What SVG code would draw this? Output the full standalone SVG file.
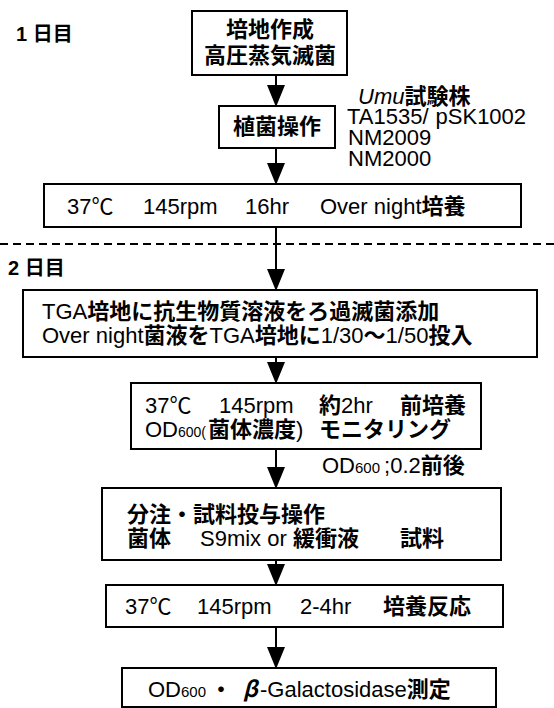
<svg xmlns="http://www.w3.org/2000/svg" width="554" height="708" viewBox="0 0 554 708">
<style>
.t{font-family:"Liberation Sans","Noto Sans CJK JP",sans-serif;font-size:22px;fill:#000}
.j{font-family:"Noto Sans CJK JP","Liberation Sans",sans-serif;font-weight:bold}
.s{font-size:15px}
.i{font-style:italic}
.d{font-family:"Liberation Sans","Noto Sans CJK JP",sans-serif;font-size:20px;font-weight:bold;fill:#000}
.box{fill:#fff;stroke:#000;stroke-width:2}
.conn{stroke:#000;stroke-width:2;fill:none;marker-end:url(#ah)}
.sep{stroke:#000;stroke-width:2;stroke-dasharray:8 5}
</style>
<defs>
<marker id="ah" markerUnits="userSpaceOnUse" markerWidth="22" markerHeight="18" viewBox="0 0 22 18" refX="18" refY="9" orient="auto"><path d="M0,0 L22,9 L0,18 Z" fill="#000"/></marker>
</defs>

<text class="d" x="16" y="41">1 <tspan class="j">日目</tspan></text>
<line class="sep" x1="0" y1="244" x2="554" y2="244"/>
<text class="d" x="8" y="275">2 <tspan class="j">日目</tspan></text>

<g id="n1">
<rect class="box" x="192" y="11" width="155" height="64"/>
<text class="t j" x="270" y="37" text-anchor="middle">培地作成</text>
<text class="t j" x="270" y="63" text-anchor="middle">高圧蒸気滅菌</text>
</g>

<g id="n2">
<rect class="box" x="219" y="106" width="116" height="42"/>
<text class="t j" x="277" y="134" text-anchor="middle">植菌操作</text>
</g>

<g id="strains">
<text class="t" x="358" y="104"><tspan class="i">Umu</tspan><tspan class="j">試験株</tspan></text>
<text class="t" x="347" y="124">TA1535/<tspan dx="7">pSK1002</tspan></text>
<text class="t" x="348" y="145">NM2009</text>
<text class="t" x="348" y="166">NM2000</text>
</g>

<g id="n3">
<rect class="box" x="44" y="184" width="477" height="43"/>
<text class="t" y="214"><tspan x="67">37℃</tspan><tspan x="143">145rpm</tspan><tspan x="245">16hr</tspan><tspan x="320">Over night</tspan><tspan class="j">培養</tspan></text>
</g>

<g id="n4">
<rect class="box" x="23" y="290" width="514" height="67"/>
<text class="t" x="42" y="319">TGA<tspan class="j">培地に抗生物質溶液をろ過滅菌添加</tspan></text>
<text class="t" x="42" y="343">Over night<tspan class="j">菌液を</tspan>TGA<tspan class="j">培地に</tspan>1/30<tspan class="j">～</tspan>1/50<tspan class="j">投入</tspan></text>
</g>

<g id="n5">
<rect class="box" x="131" y="383" width="350" height="66"/>
<text class="t" y="413"><tspan x="145">37℃</tspan><tspan x="219">145rpm</tspan><tspan x="319" class="j">約</tspan>2hr<tspan x="400" class="j">前培養</tspan></text>
<text class="t" y="437"><tspan x="145">OD</tspan><tspan style="font-size:14px">600(</tspan><tspan x="208" class="j">菌体濃度</tspan><tspan>)</tspan><tspan x="319" class="j">モニタリング</tspan></text>
</g>

<text class="t" x="322" y="473">OD<tspan class="s">600</tspan><tspan dx="4">;0.2</tspan><tspan class="j">前後</tspan></text>

<g id="n6">
<rect class="box" x="102" y="488" width="399" height="72"/>
<text class="t j" x="127" y="522">分注・試料投与操作</text>
<text class="t" y="546"><tspan x="127" class="j">菌体</tspan><tspan x="200">S9mix or </tspan><tspan class="j">緩衝液</tspan><tspan x="400" class="j">試料</tspan></text>
</g>

<g id="n7">
<rect class="box" x="106" y="585" width="397" height="42"/>
<text class="t" y="614"><tspan x="125">37℃</tspan><tspan x="197">145rpm</tspan><tspan x="300">2-4hr</tspan><tspan x="383" class="j">培養反応</tspan></text>
</g>

<g id="n8">
<rect class="box" x="122" y="668" width="374" height="39"/>
<text class="t" y="697"><tspan x="148">OD</tspan><tspan class="s">600</tspan><tspan x="210" class="j">・</tspan><tspan x="243" class="j i">β</tspan><tspan x="260">-Galactosidase</tspan><tspan class="j">測定</tspan></text>
</g>

<g id="connectors">
<path class="conn" d="M276,75 V103"/>
<path class="conn" d="M276,148 V181"/>
<path class="conn" d="M276,227 V287"/>
<path class="conn" d="M276,357 V380"/>
<path class="conn" d="M276,449 V485"/>
<path class="conn" d="M276,560 V582"/>
<path class="conn" d="M276,627 V665"/>
</g>
</svg>
